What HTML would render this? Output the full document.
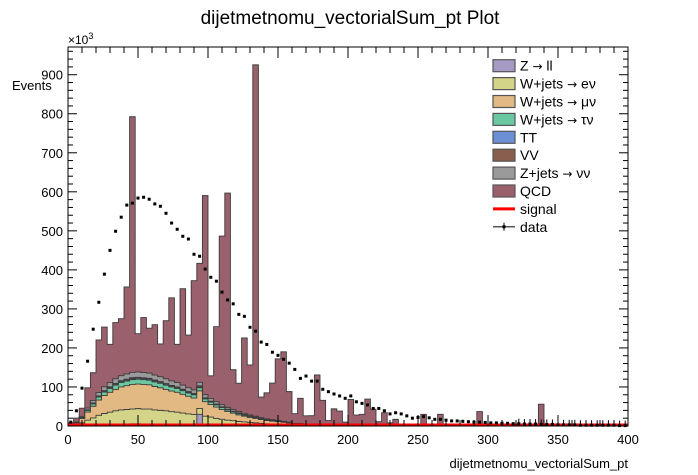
<!DOCTYPE html>
<html><head><meta charset="utf-8"><style>
html,body{margin:0;padding:0;background:#fff;}
svg{display:block;font-family:"Liberation Sans",sans-serif;}
.arr{font-family:"DejaVu Sans",sans-serif;font-size:12px;}
</style></head><body>
<svg id="chart" width="698" height="475" viewBox="0 0 698 475">
<rect x="0" y="0" width="698" height="475" fill="#fff"/>
<text x="350" y="24" font-size="19" text-anchor="middle" fill="#000">dijetmetnomu_vectorialSum_pt Plot</text>
<text x="12" y="90" font-size="13" fill="#000">Events</text>
<text x="68" y="44" font-size="12" fill="#000">×10<tspan font-size="9" dy="-5">3</tspan></text>
<text x="628" y="468" font-size="13" text-anchor="end" fill="#000">dijetmetnomu_vectorialSum_pt</text>
<g id="marks"></g>
<g id="axes"></g>
<g id="legend"></g>
</svg>
<script>
const binEdges0 = 0, binWidth = 4, nBins = 100;
const xTicks = [0,50,100,150,200,250,300,350,400];
const yTicks = [0,100,200,300,400,500,600,700,800,900];
const zll = [0.1,0.4,1,1.8,2.6,3.4,4,4.4,4.8,5.1,5.3,5.5,5.5,5.4,5.4,5.2,5,4.8,4.6,4.4,4.2,4,3.7,30,3.2,2.8,2.5,2.2,1.9,1.7,1.5,1.3,1.1,1,0.8,0.7,0.6,0.6,0.5,0.4];
const wenu = [1,3,7,13,18,24,28,31,34,36,37,38,39,38,38,36,35,34,32,31,29,27,26,15,22,20,17,15,13,12,10,9,8,7,6,5,4.5,4,3.4,2.8,2.5,2.2,2,1.7,1.4,1.4,1.1,1.1,0.8,0.8];
const wmunu = [1.4,4.6,11,21,30,39,46,51,55,59,61,63,63,63,62,60,58,55,53,51,48,45,42,45,37,32,29,25,22,19,17,15,13,11.5,9.7,8.3,7.4,6.4,5.5,4.6,4.1,3.7,3.2,2.8,2.3,2.3,1.8,1.8,1.4,1.4];
const wtaunu = [0.3,0.9,2.3,4,6,7.7,9,10,11,11.5,12,12.3,12.4,12.2,12,11.7,11.3,10.8,10.4,9.9,9.4,8.8,8.3,8,7.2,6.3,5.6,5,4.3,3.8,3.3,2.9,2.5,2.3,1.9,1.6,1.4,1.3,1.1,0.9];
const ttbar = [0.1,0.2,0.5,0.9,1.3,1.7,2,2.2,2.4,2.6,2.7,2.7,2.8,2.7,2.7,2.6,2.5,2.4,2.3,2.2,2.1,2,1.8,1.8,1.6,1.4,1.2,1.1,1,0.8,0.7,0.6,0.6,0.5,0.4,0.4,0.3,0.3,0.2,0.2];
const vv = [0,0.2,0.4,0.7,1,1.3,1.5,1.7,1.8,1.9,2,2.1,2.1,2,2,2,1.9,1.8,1.7,1.7,1.6,1.5,1.4,3,1.2,1.1,0.9,0.8,0.7,0.6,0.6,0.5,0.4,0.4,0.3,0.3,0.2,0.2,0.2,0.2];
const znunu = [0.3,1,2.5,4.5,6.5,8.5,10,11,12,12.8,13.3,13.7,13.8,13.6,13.4,13,12.6,12,11.5,11,10.4,9.8,9.2,9,8,7,6.2,5.5,4.8,4.2,3.7,3.2,2.8,2.5,2.1,1.8,1.6,1.4,1.2,1];
const qcd = [5,10,21,52,71,135,153,98,144,146,223,655,98,141,115,129,84,149,213,98,247,135,280,305,510,58,192,432,549,102,73,193,128,900,53,67,94,158,178,78,25,65,21,22,127,62,11,41,36,8,68,28,30,69,43,11,34,8,17,5,2,2,2,30,2,3,30,2,2,2,2,2,2,37,2,2,2,2,2,2,2,2,2,2,56,2,2,2,1,1,1,1,1,1,1,1,1,1,1,1];
const dataVals = [10,39,97,166,248,317,389,450,499,535,566,571,584,586,581,569,563,545,520,504,486,479,440,435,402,381,371,343,323,313,286,281,253,243,215,209,189,181,171,161,145,122,128,115,115,94,88,82,77,71,77,62,58,54,45,45,39,31,34,31,26,20,22,24,21,17,17,15,13,13,12,11,10,10,9,8,8,7,7,6,6,5,5,5,4,4,4,3,3,3,3,2,2,2,2,2,2,2,1,1];
const signalVals = new Array(100).fill(0);

const X0=68,X1=628,Y0=426,Y1=47;
const xs = v => X0 + (v-0)/(400-0)*(X1-X0);
const ys = v => Y0 - v/1000*((Y0-Y1)*1000/971);
const NS='http://www.w3.org/2000/svg';
function mk(tag, attrs, parent){const e=document.createElementNS(NS,tag);for(const k in attrs)e.setAttribute(k,attrs[k]);parent.appendChild(e);return e;}
const marks=document.getElementById('marks'), axes=document.getElementById('axes'), legend=document.getElementById('legend');

const comps = [
 {name:'z-ll', arr:zll, color:'#a69bc4', label:'Z ', arrow:'\u2192', tail:' ll'},
 {name:'w-enu', arr:wenu, color:'#d4d489', label:'W+jets ', arrow:'\u2192', tail:' e\u03bd'},
 {name:'w-munu', arr:wmunu, color:'#e3b983', label:'W+jets ', arrow:'\u2192', tail:' \u03bc\u03bd'},
 {name:'w-taunu', arr:wtaunu, color:'#6ac8a0', label:'W+jets ', arrow:'\u2192', tail:' \u03c4\u03bd'},
 {name:'ttbar', arr:ttbar, color:'#6c8fd6', label:'TT'},
 {name:'vv', arr:vv, color:'#8a5e4e', label:'VV'},
 {name:'z-nunu', arr:znunu, color:'#9a9a9a', label:'Z+jets ', arrow:'\u2192', tail:' \u03bd\u03bd'},
 {name:'qcd', arr:qcd, color:'#9a616c', label:'QCD'}
];
const cum=[]; let run=new Array(nBins).fill(0);
comps.forEach(c=>{run=run.map((v,i)=>v+(c.arr[i]||0));cum.push(run.slice());});
for(let k=comps.length-1;k>=0;k--){
  const top=cum[k];
  let d='M'+xs(0)+','+ys(0);
  for(let i=0;i<nBins;i++){const a=xs(binEdges0+i*binWidth),b=xs(binEdges0+(i+1)*binWidth);d+=' L'+a+','+ys(top[i])+' L'+b+','+ys(top[i]);}
  d+=' L'+xs(400)+','+ys(0)+' Z';
  const p=mk('path',{d:d,fill:comps[k].color,stroke:'#3a3a3a','stroke-width':'0.9'},marks);
  
  
}
let sd='';
for(let i=0;i<nBins;i++){sd+=(i?' L':'M')+xs(i*binWidth)+','+(ys(signalVals[i])-1)+' L'+xs((i+1)*binWidth)+','+(ys(signalVals[i])-1);}
const sl=mk('path',{d:sd,fill:'none',stroke:'#ff0000','stroke-width':'3'},marks);


for(let i=0;i<nBins;i++){
  const cx=xs(i*binWidth+binWidth/2), cy=ys(dataVals[i]);
  if(i>=80){const eb=mk('line',{x1:cx,x2:cx,y1:cy-5,y2:Math.min(cy+5,Y0),stroke:'#000','stroke-width':'1'},marks);
    
    }
  const r=mk('rect',{x:cx-1.5,y:cy-1.5,width:3,height:3,fill:'#000'},marks);
  
  
}
const fr=mk('rect',{x:X0,y:Y1,width:X1-X0,height:Y0-Y1,fill:'none',stroke:'#000','stroke-width':'1'},axes);


for(let v=0;v<=960;v+=20){const y=ys(v);const L=(v%100===0)?9:5;
  mk('line',{x1:X0,x2:X0+L,y1:y,y2:y,stroke:'#000','stroke-width':'1'},axes);
  mk('line',{x1:X1,x2:X1-L,y1:y,y2:y,stroke:'#000','stroke-width':'1'},axes);}
yTicks.forEach(v=>{const t=mk('text',{x:X0-5,y:ys(v)+5,'font-size':'13','text-anchor':'end',fill:'#000'},axes);t.textContent=v;
  
  });
for(let v=0;v<=400;v+=10){const x=xs(v);const L=(v%50===0)?11:6;
  mk('line',{x1:x,x2:x,y1:Y0,y2:Y0-L,stroke:'#000','stroke-width':'1'},axes);
  mk('line',{x1:x,x2:x,y1:Y1,y2:Y1+L,stroke:'#000','stroke-width':'1'},axes);}
xTicks.forEach(v=>{const t=mk('text',{x:xs(v),y:444,'font-size':'13','text-anchor':'middle',fill:'#000'},axes);t.textContent=v;
  
  });
const legItems=comps.concat([{name:'signal',label:'signal',line:'#ff0000'},{name:'data',label:'data',data:true}]);
legItems.forEach((c,i)=>{
  const cy=65.7+i*17.9;
  const g=mk('g',{},legend);
  
  
  if(c.color){mk('rect',{x:493,y:cy-6,width:22,height:12,fill:c.color,stroke:'#555','stroke-width':'1.2'},g);}
  else if(c.line){mk('line',{x1:493,x2:515,y1:cy,y2:cy,stroke:c.line,'stroke-width':'3'},g);}
  else {mk('line',{x1:493,x2:515,y1:cy,y2:cy,stroke:'#555','stroke-width':'1.5'},g);
        mk('line',{x1:504,x2:504,y1:cy-4,y2:cy+4,stroke:'#000','stroke-width':'1'},g);
        mk('rect',{x:502.5,y:cy-1.5,width:3,height:3,fill:'#000'},g);}
  const t=mk('text',{x:520,y:cy+5,'font-size':'14',fill:'#000'},g);
  t.appendChild(document.createTextNode(c.label));
  if(c.arrow){const a=document.createElementNS(NS,'tspan');a.setAttribute('class','arr');a.textContent=c.arrow;t.appendChild(a);
    t.appendChild(document.createTextNode(c.tail));}
});
</script>
</body></html>
